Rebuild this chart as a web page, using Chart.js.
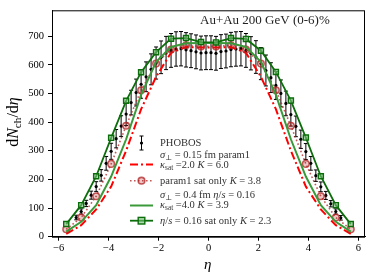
<!DOCTYPE html>
<html>
<head>
<meta charset="utf-8">
<script src="https://cdn.jsdelivr.net/npm/chart.js@4.4.1/dist/chart.umd.min.js"></script>
<style>html,body{margin:0;padding:0;background:#fff;}</style>
</head>
<body>
<canvas id="c" width="374" height="280"></canvas>
<script>
// model grid (eta) and curves
const etaModel = [-5.7,-5.1,-4.5,-3.9,-3.3,-2.7,-2.1,-1.5,-0.9,-0.3,0.3,0.9,1.5,2.1,2.7,3.3,3.9,4.5,5.1,5.7];
const param1K6 = [10,40,95,175,300,445,558,642,662,660,660,662,642,558,445,300,175,95,40,10];
const param1SatOnly = [26,67,141,254,387,511,604,653,668,664,664,668,653,604,511,387,254,141,67,26];
const etaS016 = [18,52,110,210,340,495,610,662,675,676,676,675,662,610,495,340,210,110,52,18];
const etaS016SatOnly = [44,110,211,345,474,574,644,691,693,679,678,693,690,649,575,475,346,211,110,44];

// PHOBOS 0-6% data
const etaData = [-5.3,-5.1,-4.9,-4.7,-4.5,-4.3,-4.1,-3.9,-3.7,-3.5,-3.3,-3.1,-2.9,-2.7,-2.5,-2.3,-2.1,-1.9,-1.7,-1.5,-1.3,-1.1,-0.9,-0.7,-0.5,-0.3,-0.1,
  0.1,0.3,0.5,0.7,0.9,1.1,1.3,1.5,1.7,1.9,2.1,2.3,2.5,2.7,2.9,3.1,3.3,3.5,3.7,3.9,4.1,4.3,4.5,4.7,4.9,5.1,5.3];
const phobos = [67,88,116,145,175,214,256,298,342,386,428,468,503,532,558,584,606,626,641,650,655,656,652,649,645,641,642,
  642,640,646,648,653,655,656,650,640,627,604,580,555,528,500,465,426,385,340,297,256,213,174,144,115,88,66];
const phobosErr = [8,9,11,14,17,20,24,28,32,36,40,43,47,49,52,54,56,57,58,59,60,60,60,59,59,59,59,
  59,59,59,59,60,60,60,59,58,57,56,54,52,49,47,43,40,36,32,28,24,20,17,14,11,9,8];

const xTicks = [-6,-4,-2,0,2,4,6];
const yTicks = [0,100,200,300,400,500,600,700];

const SERIF = '"Liberation Serif", "DejaVu Serif", serif';
const pts = (xs, ys) => xs.map((x, i) => ({x: x, y: ys[i]}));

function rich(ctx, x, y, parts, size) {
  for (const [t, k] of parts) {
    let s = size, yy = y;
    if (k === 's') { s = size * 0.7; yy = y + size * 0.28; }
    ctx.font = (k === 'i' ? 'italic ' : '') + s + 'px ' + SERIF;
    ctx.fillText(t, x, yy);
    x += ctx.measureText(t).width;
  }
  return x;
}
function richWidth(ctx, parts, size) {
  let w = 0;
  for (const [t, k] of parts) {
    const s = k === 's' ? size * 0.7 : size;
    ctx.font = (k === 'i' ? 'italic ' : '') + s + 'px ' + SERIF;
    w += ctx.measureText(t).width;
  }
  return w;
}

const errorBars = {
  id: 'errorBars',
  beforeDatasetsDraw(chart) {
    const {ctx, scales: {x, y}} = chart;
    ctx.save();
    ctx.strokeStyle = '#000';
    ctx.lineWidth = 1;
    etaData.forEach((e, i) => {
      const px = x.getPixelForValue(e);
      const y1 = y.getPixelForValue(phobos[i] - phobosErr[i]);
      const y2 = y.getPixelForValue(phobos[i] + phobosErr[i]);
      ctx.beginPath();
      ctx.moveTo(px, y1); ctx.lineTo(px, y2);
      ctx.moveTo(px - 2, y1); ctx.lineTo(px + 2, y1);
      ctx.moveTo(px - 2, y2); ctx.lineTo(px + 2, y2);
      ctx.stroke();
    });
    ctx.restore();
  }
};

const decor = {
  id: 'decor',
  afterDraw(chart) {
    const {ctx, chartArea: a} = chart;
    ctx.save();
    ctx.strokeStyle = '#000';
    ctx.lineWidth = 1;
    ctx.strokeRect(a.left + 0.5, a.top + 0.5, a.right - a.left - 1, a.bottom - a.top);
    ctx.fillStyle = '#222';
    ctx.textBaseline = 'middle';
    ctx.textAlign = 'left';
    ctx.font = '13px ' + SERIF;
    ctx.fillText('Au+Au 200 GeV (0-6)%', 200, 21);

    // axis titles
    ctx.fillStyle = '#000';
    rich(ctx, 204, 265, [['η', 'i']], 15);
    const yl = [['d', 'r'], ['N', 'i'], ['ch', 's'], ['/d', 'r'], ['η', 'i']];
    ctx.save();
    ctx.translate(14, 122);
    ctx.rotate(-Math.PI / 2);
    rich(ctx, -richWidth(ctx, yl, 16) / 2, 0, yl, 16);
    ctx.restore();

    // legend
    const fs = 10.5, tx = 160, h0 = 130, h1 = 153, hc = 141.5;
    ctx.fillStyle = '#333';
    // PHOBOS
    ctx.strokeStyle = '#000'; ctx.lineWidth = 1;
    ctx.beginPath();
    ctx.moveTo(hc, 136); ctx.lineTo(hc, 150);
    ctx.moveTo(hc - 2, 136); ctx.lineTo(hc + 2, 136);
    ctx.moveTo(hc - 2, 150); ctx.lineTo(hc + 2, 150);
    ctx.stroke();
    ctx.fillStyle = '#000';
    ctx.beginPath(); ctx.arc(hc, 143, 1.6, 0, Math.PI * 2); ctx.fill();
    ctx.fillStyle = '#333';
    rich(ctx, tx, 143, [['PHOBOS', 'r']], fs);
    // red dash-dot
    rich(ctx, tx, 155.5, [['σ', 'i'], ['⊥', 's'], [' = 0.15 fm param1', 'r']], fs);
    rich(ctx, tx, 165, [['κ', 'i'], ['sat', 's'], [' =2.0 ', 'r'], ['K', 'i'], [' = 6.0', 'r']], fs);
    ctx.strokeStyle = 'red'; ctx.lineWidth = 2; ctx.setLineDash([8, 3, 2, 3]);
    ctx.beginPath(); ctx.moveTo(h0, 164.5); ctx.lineTo(h1, 164.5); ctx.stroke();
    // brown circles
    ctx.strokeStyle = 'rgba(178,34,34,0.75)'; ctx.lineWidth = 1.6; ctx.setLineDash([1.6, 2.4]);
    ctx.beginPath(); ctx.moveTo(h0, 180.7); ctx.lineTo(h1, 180.7); ctx.stroke();
    ctx.setLineDash([]);
    ctx.fillStyle = 'rgba(178,34,34,0.25)';
    ctx.beginPath(); ctx.arc(hc, 180.7, 3.3, 0, Math.PI * 2); ctx.fill(); ctx.stroke();
    ctx.fillStyle = '#333';
    rich(ctx, tx, 181, [['param1 sat only ', 'r'], ['K', 'i'], [' = 3.8', 'r']], fs);
    // light green
    rich(ctx, tx, 195.5, [['σ', 'i'], ['⊥', 's'], [' = 0.4 fm ', 'r'], ['η', 'i'], ['/', 'r'], ['s', 'i'], [' = 0.16', 'r']], fs);
    rich(ctx, tx, 205, [['κ', 'i'], ['sat', 's'], [' =4.0 ', 'r'], ['K', 'i'], [' = 3.9', 'r']], fs);
    ctx.strokeStyle = '#3a9a3a'; ctx.lineWidth = 2;
    ctx.beginPath(); ctx.moveTo(h0, 205.5); ctx.lineTo(h1, 205.5); ctx.stroke();
    // dark green squares
    ctx.strokeStyle = '#0b6e0b'; ctx.lineWidth = 1.8;
    ctx.beginPath(); ctx.moveTo(h0, 220.7); ctx.lineTo(h1, 220.7); ctx.stroke();
    ctx.fillStyle = 'rgba(120,190,120,0.6)'; ctx.lineWidth = 1.4;
    ctx.fillRect(hc - 3.3, 217.4, 6.6, 6.6); ctx.strokeRect(hc - 3.3, 217.4, 6.6, 6.6);
    ctx.fillStyle = '#333';
    rich(ctx, tx, 221, [['η', 'i'], ['/', 'r'], ['s', 'i'], [' = 0.16 sat only ', 'r'], ['K', 'i'], [' = 2.3', 'r']], fs);
    ctx.restore();
  }
};

const tickFont = {family: SERIF, size: 10.5};
const fmt = v => (v < 0 ? '\u2212' + Math.abs(v) : String(v));

new Chart(document.getElementById('c'), {
  type: 'line',
  data: {
    datasets: [
      {label: 'PHOBOS', data: pts(etaData, phobos), showLine: false, pointRadius: 1.6,
       pointBackgroundColor: '#000', pointBorderWidth: 0, order: 5},
      {label: 'param1 K=6.0', data: pts(etaModel, param1K6), borderColor: 'red', borderWidth: 2,
       borderDash: [8, 3, 2, 3], pointRadius: 0, tension: 0, order: 4},
      {label: 'param1 sat only', data: pts(etaModel, param1SatOnly), borderColor: 'rgba(178,34,34,0.75)',
       borderWidth: 1.6, borderDash: [1.6, 2.4], pointRadius: 3.3, pointStyle: 'circle',
       pointBorderColor: 'rgba(178,34,34,0.75)', pointBackgroundColor: 'rgba(178,34,34,0.25)',
       pointBorderWidth: 1.5, tension: 0, order: 3},
      {label: 'eta/s 0.16', data: pts(etaModel, etaS016), borderColor: '#3a9a3a', borderWidth: 2,
       pointRadius: 0, tension: 0, order: 2},
      {label: 'eta/s 0.16 sat only', data: pts(etaModel, etaS016SatOnly), borderColor: '#0b6e0b',
       borderWidth: 1.8, pointRadius: 3.6, pointStyle: 'rect', pointBorderColor: '#0b6e0b',
       pointBackgroundColor: 'rgba(120,190,120,0.6)', pointBorderWidth: 1.4, tension: 0, order: 1}
    ]
  },
  options: {
    responsive: false,
    animation: false,
    layout: {padding: {top: 8, right: 9, left: 0, bottom: 0}},
    plugins: {legend: {display: false}, tooltip: {enabled: false}},
    scales: {
      x: {
        type: 'linear', min: -6.27, max: 6.27,
        afterBuildTicks: s => { s.ticks = xTicks.map(v => ({value: v})); },
        afterFit: s => { s.height = 43.3; },
        ticks: {font: tickFont, color: '#000', padding: 1, callback: fmt, maxRotation: 0},
        grid: {drawOnChartArea: false, tickLength: 4, tickColor: '#000'},
        border: {color: '#000'}
      },
      y: {
        min: 0, max: 790,
        afterBuildTicks: s => { s.ticks = yTicks.map(v => ({value: v})); },
        afterFit: s => { s.width = 52; },
        ticks: {font: tickFont, color: '#000', padding: 4, callback: fmt},
        grid: {drawOnChartArea: false, tickLength: 4, tickColor: '#000'},
        border: {color: '#000'}
      }
    }
  },
  plugins: [errorBars, decor]
});
</script>
</body>
</html>
